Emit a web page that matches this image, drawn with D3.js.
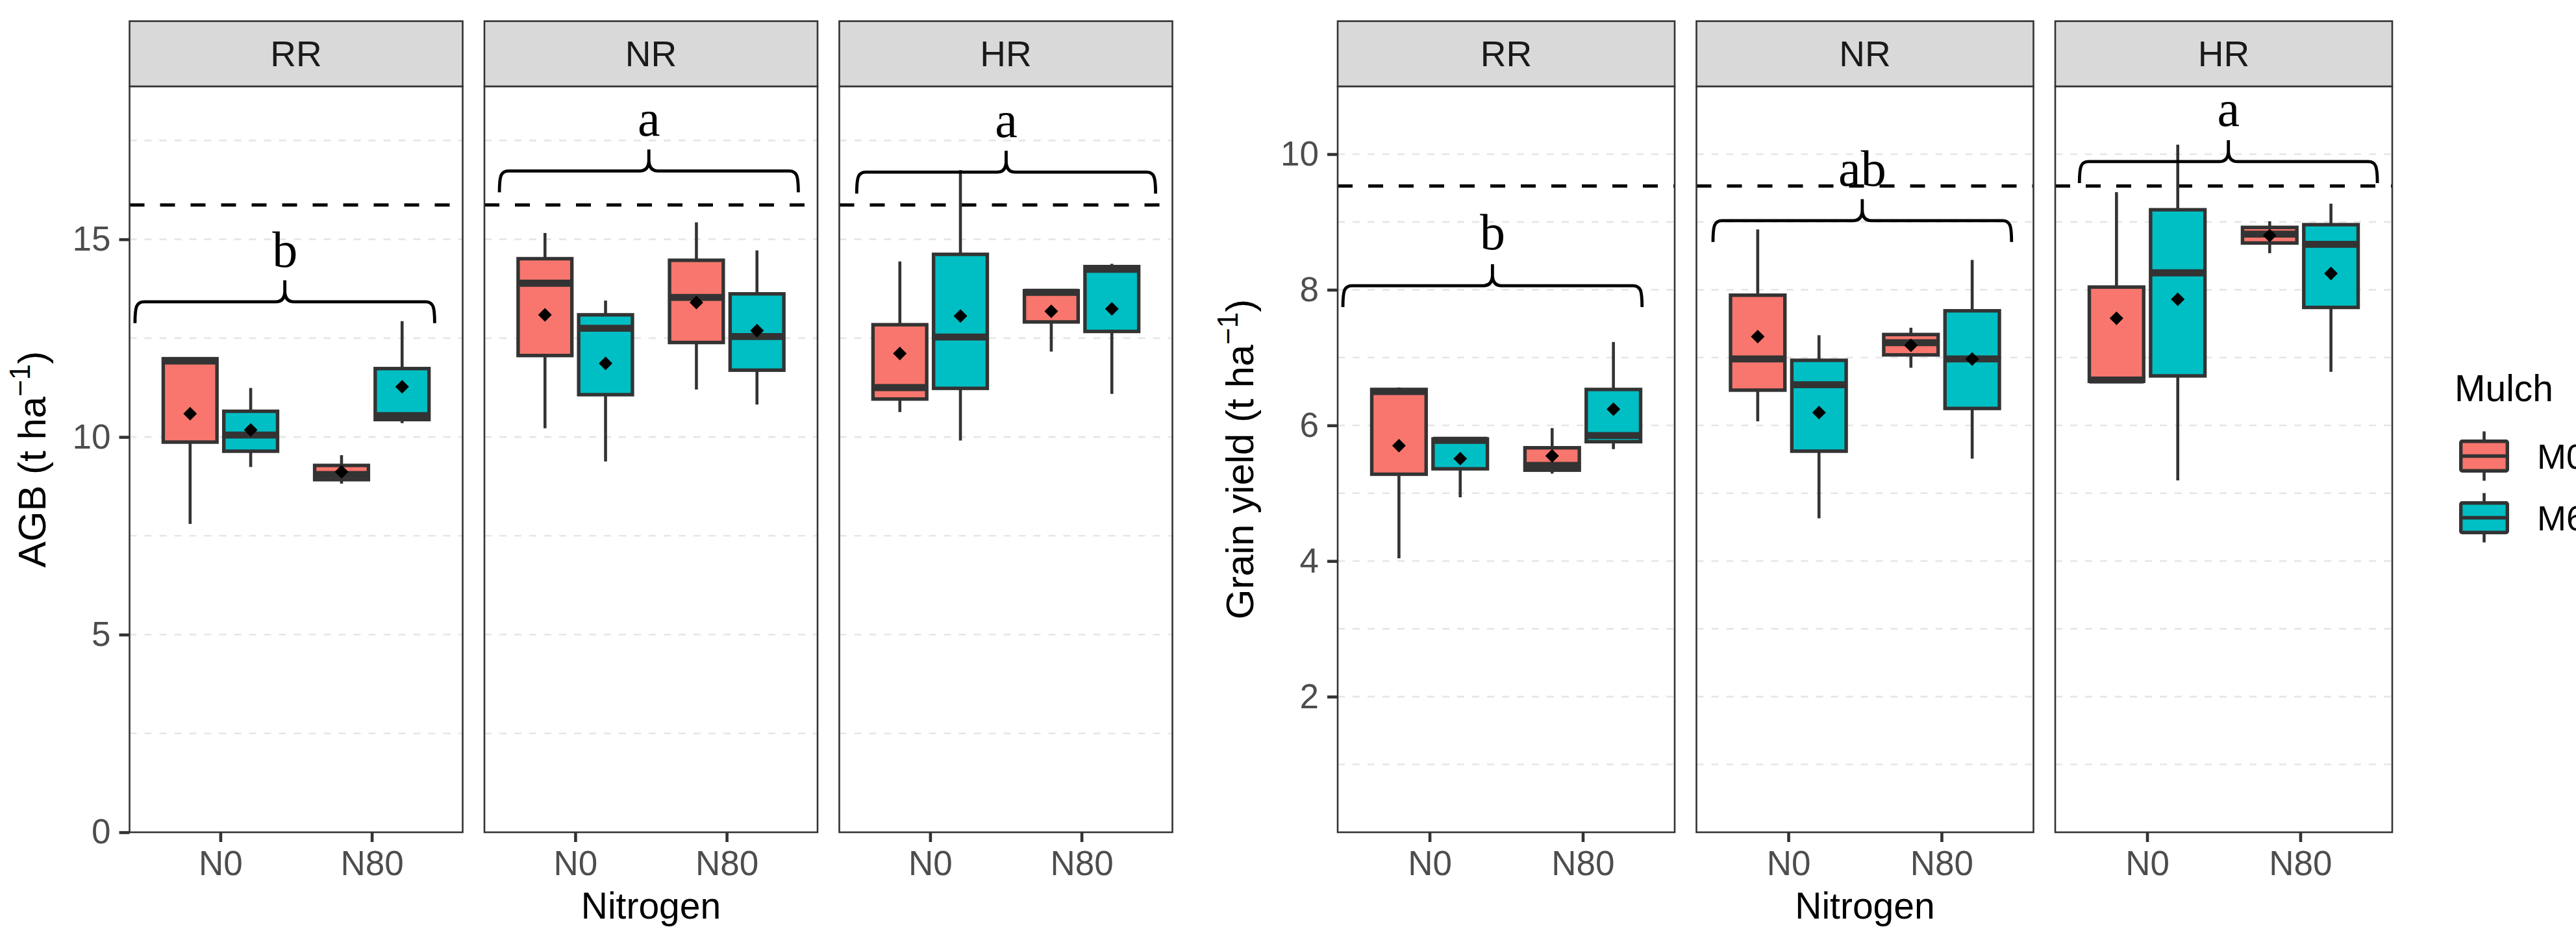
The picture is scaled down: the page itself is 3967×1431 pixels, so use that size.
<!DOCTYPE html>
<html><head><meta charset="utf-8">
<script src="https://cdn.jsdelivr.net/npm/d3@7"></script>
<style>body{margin:0;background:#fff}svg{display:block}</style>
</head><body><svg id="chart" width="3967" height="1431"></svg>
<script>
// ---------------- DATA ----------------
const facets = ["RR", "NR", "HR"];
const nitrogen = ["N0", "N80"];
const mulch = ["M0", "M60"];
// each row: [lower whisker, Q1, median, Q3, upper whisker, mean]; order N0-M0, N0-M60, N80-M0, N80-M60
const agbRR = [[7.80, 9.87, 11.92, 11.98, 11.98, 10.59], [9.24, 9.64, 10.05, 10.65, 11.24, 10.18], [8.82, 8.92, 9.05, 9.28, 9.54, 9.12], [10.35, 10.44, 10.54, 11.73, 12.93, 11.27]];
const agbNR = [[10.22, 12.06, 13.89, 14.51, 15.16, 13.09], [9.38, 11.07, 12.75, 13.09, 13.45, 11.86], [11.20, 12.39, 13.53, 14.47, 15.43, 13.40], [10.82, 11.69, 12.54, 13.62, 14.72, 12.69]];
const agbHR = [[10.63, 10.96, 11.25, 12.84, 14.44, 12.11], [9.91, 11.23, 12.53, 14.62, 16.75, 13.06], [12.16, 12.91, 13.66, 13.70, 13.70, 13.18], [11.09, 12.67, 14.24, 14.31, 14.38, 13.24]];
const grainRR = [[4.04, 5.28, 6.50, 6.53, 6.56, 5.70], [4.94, 5.36, 5.78, 5.80, 5.82, 5.51], [5.29, 5.34, 5.41, 5.67, 5.96, 5.55], [5.65, 5.76, 5.85, 6.53, 7.23, 6.24]];
const grainNR = [[6.06, 6.52, 6.98, 7.92, 8.89, 7.31], [4.63, 5.62, 6.60, 6.96, 7.33, 6.19], [6.85, 7.04, 7.22, 7.34, 7.44, 7.18], [5.51, 6.25, 6.98, 7.69, 8.44, 6.98]];
const grainHR = [[6.63, 6.65, 6.67, 8.04, 9.44, 7.58], [5.19, 6.73, 8.25, 9.18, 10.14, 7.86], [8.54, 8.69, 8.82, 8.92, 9.01, 8.80], [6.79, 7.74, 8.67, 8.96, 9.27, 8.24]];
const agbTicks = [0, 5, 10, 15];
const agbMinor = [2.5, 7.5, 12.5, 17.5];
const grainTicks = [2, 4, 6, 8, 10];
const grainMinor = [1, 3, 5, 7, 9];
const agbRef = 15.87;
const grainRef = 9.53;
const agbLetters = ["b", "a", "a"];
const agbLetterY = [14.30, 17.62, 17.59];
const agbBraceY = [13.42, 16.73, 16.70];
const agbBraceX = [[0.436, 2.415], [0.499, 2.473], [0.515, 2.489]];
const grainLetters = ["b", "ab", "a"];
const grainLetterY = [8.60, 9.54, 10.42];
const grainBraceY = [8.06, 9.02, 9.89];
const grainBraceX = [[0.434, 2.387], [0.508, 2.457], [0.558, 2.503]];
const fillColors = ["#F8766D", "#00BFC4"];

// ---------------- DRAWING ----------------
const W = 3967, H = 1431;
const PT = 133, PB = 1282, ST = 32.6;
const svg = d3.select("#chart");
svg.append("rect").attr("width", W).attr("height", H).attr("fill", "#fff");
const SANS = "'Liberation Sans', Arial, Helvetica, sans-serif";
const SERIF = "'Liberation Serif', 'Times New Roman', serif";

function bracePath(xa, xb, yb, hook, tip) {
  const m = (xa + xb) / 2, r = 14;
  return `M${xa},${yb + hook} C${xa},${yb + 8} ${xa + 2},${yb} ${xa + r},${yb} L${m - r},${yb} ` +
    `Q${m - 1},${yb} ${m},${yb - tip * 0.45} L${m},${yb - tip} M${m},${yb - tip * 0.45} ` +
    `Q${m + 1},${yb} ${m + r},${yb} L${xb - r},${yb} C${xb - 2},${yb} ${xb},${yb + 8} ${xb},${yb + hook}`;
}

function drawChart(c) {
  const y = d3.scaleLinear().domain([0, c.yMax]).range([PB, PT]);
  const g = svg.append("g");
  facets.forEach((f, i) => {
    const x0 = c.left + i * (c.panelW + c.gap), x1 = x0 + c.panelW;
    const xPos = d3.scalePoint().domain(nitrogen).range([x0, x1]).padding(0.6);
    const step = xPos.step();
    const xUnit = d3.scaleLinear().domain([0.4, 2.6]).range([x0, x1]);
    const xDodge = d3.scaleBand().domain(mulch).range([-0.4 * step, 0.4 * step])
      .paddingInner(0.1125).paddingOuter(0.05625);
    const bw = xDodge.bandwidth();
    const pg = g.append("g");
    pg.append("rect").attr("x", x0).attr("y", PT).attr("width", c.panelW).attr("height", PB - PT).attr("fill", "#fff");
    // grid
    pg.selectAll(".grid").data(c.minor.concat(c.ticks.filter(t => t > 0))).enter().append("line")
      .attr("x1", x0).attr("x2", x1).attr("y1", d => y(d)).attr("y2", d => y(d))
      .attr("stroke", "#E6E6E6").attr("stroke-width", 2.6).attr("stroke-dasharray", "11,12");
    // reference line
    pg.append("line").attr("x1", x0).attr("x2", x1).attr("y1", y(c.ref)).attr("y2", y(c.ref))
      .attr("stroke", "#000").attr("stroke-width", 5).attr("stroke-dasharray", "23,24");
    // boxes
    const stats = c.stats[i];
    const rows = [];
    nitrogen.forEach((n, ni) => mulch.forEach((m, mi) => rows.push({ n, m, mi, s: stats[ni * 2 + mi] })));
    rows.forEach(r => {
      const cx = xPos(r.n) + xDodge(r.m) + bw / 2;
      const s = r.s;
      const bg = pg.append("g");
      bg.append("line").attr("x1", cx).attr("x2", cx).attr("y1", y(s[3])).attr("y2", y(s[4]))
        .attr("stroke", "#333333").attr("stroke-width", 4.6);
      bg.append("line").attr("x1", cx).attr("x2", cx).attr("y1", y(s[1])).attr("y2", y(s[0]))
        .attr("stroke", "#333333").attr("stroke-width", 4.6);
      bg.append("rect").attr("x", cx - bw / 2).attr("width", bw)
        .attr("y", y(s[3])).attr("height", Math.max(0.5, y(s[1]) - y(s[3])))
        .attr("fill", fillColors[r.mi]).attr("stroke", "#333333").attr("stroke-width", 5.4);
      bg.append("line").attr("x1", cx - bw / 2).attr("x2", cx + bw / 2).attr("y1", y(s[2])).attr("y2", y(s[2]))
        .attr("stroke", "#333333").attr("stroke-width", 10.8);
      const my = y(s[5]), d = 10.5;
      bg.append("path").attr("d", `M${cx},${my - d} L${cx + d},${my} L${cx},${my + d} L${cx - d},${my} Z`).attr("fill", "#000");
    });
    // brace + letter
    const bx = c.braceX[i];
    pg.append("path").attr("d", bracePath(xUnit(bx[0]), xUnit(bx[1]), y(c.braceY[i]), 33, 33))
      .attr("fill", "none").attr("stroke", "#000").attr("stroke-width", 4.8);
    pg.append("text").attr("x", xUnit((bx[0] + bx[1]) / 2)).attr("y", y(c.letterY[i]))
      .attr("text-anchor", "middle").attr("font-family", SERIF).attr("font-size", 78).attr("fill", "#000")
      .text(c.letters[i]);
    // border
    pg.append("rect").attr("x", x0).attr("y", PT).attr("width", c.panelW).attr("height", PB - PT)
      .attr("fill", "none").attr("stroke", "#333333").attr("stroke-width", 2.6);
    // strip
    pg.append("rect").attr("x", x0).attr("y", ST).attr("width", c.panelW).attr("height", PT - ST)
      .attr("fill", "#D9D9D9").attr("stroke", "#333333").attr("stroke-width", 2.6);
    pg.append("text").attr("x", (x0 + x1) / 2).attr("y", (ST + PT) / 2 + 19.5).attr("text-anchor", "middle")
      .attr("font-family", SANS).attr("font-size", 55).attr("fill", "#1A1A1A").text(f);
    // x axis
    const ax = pg.append("g").attr("transform", `translate(0,${PB})`)
      .call(d3.axisBottom(xPos).tickSize(15).tickPadding(13.7));
    ax.select(".domain").remove();
    ax.selectAll("line").attr("stroke", "#333333").attr("stroke-width", 4.6);
    ax.selectAll("text").attr("font-family", SANS).attr("font-size", 53).attr("fill", "#4D4D4D");
    if (i === 0) {
      const ay = pg.append("g").attr("transform", `translate(${x0},0)`)
        .call(d3.axisLeft(y).tickValues(c.ticks).tickSize(16).tickPadding(13).tickFormat(d3.format("d")));
      ay.select(".domain").remove();
      ay.selectAll("line").attr("stroke", "#333333").attr("stroke-width", 4.6);
      ay.selectAll("text").attr("font-family", SANS).attr("font-size", 53).attr("fill", "#4D4D4D");
    }
  });
  // x title
  const totalR = c.left + 3 * c.panelW + 2 * c.gap;
  g.append("text").attr("x", (c.left + totalR) / 2).attr("y", 1415).attr("text-anchor", "middle")
    .attr("font-family", SANS).attr("font-size", 57).attr("fill", "#000").text("Nitrogen");
  // y title
  const yt = g.append("text").attr("transform", `translate(${c.yTitleX},${(PT + PB) / 2}) rotate(-90)`)
    .attr("text-anchor", "middle").attr("font-family", SANS).attr("font-size", 60).attr("fill", "#000");
  yt.append("tspan").text(c.yTitle + " (t ha");
  yt.append("tspan").attr("dy", -24).attr("font-size", 44).text("\u22121");
  yt.append("tspan").attr("dy", 24).text(")");
}

drawChart({ left: 199.5, panelW: 513, gap: 33.5, yMax: 18.87, stats: [agbRR, agbNR, agbHR],
  ticks: agbTicks, minor: agbMinor, ref: agbRef, letters: agbLetters, letterY: agbLetterY,
  braceY: agbBraceY, braceX: agbBraceX, yTitle: "AGB", yTitleX: 70 });
drawChart({ left: 2060, panelW: 519, gap: 33.5, yMax: 11.0, stats: [grainRR, grainNR, grainHR],
  ticks: grainTicks, minor: grainMinor, ref: grainRef, letters: grainLetters, letterY: grainLetterY,
  braceY: grainBraceY, braceX: grainBraceX, yTitle: "Grain yield", yTitleX: 1930 });

// legend
const lg = svg.append("g");
lg.append("text").attr("x", 3780).attr("y", 618).attr("font-family", SANS).attr("font-size", 57).attr("fill", "#000").text("Mulch");
mulch.forEach((m, i) => {
  const cy = 702.5 + i * 95, cx = 3825.5;
  lg.append("line").attr("x1", cx).attr("x2", cx).attr("y1", cy - 38).attr("y2", cy + 38).attr("stroke", "#333333").attr("stroke-width", 4.6);
  lg.append("rect").attr("x", cx - 35.8).attr("y", cy - 22.8).attr("width", 71.6).attr("height", 45.6).attr("rx", 2)
    .attr("fill", fillColors[i]).attr("stroke", "#333333").attr("stroke-width", 5.4);
  lg.append("line").attr("x1", cx - 35.8).attr("x2", cx + 35.8).attr("y1", cy).attr("y2", cy).attr("stroke", "#333333").attr("stroke-width", 5.4);
  lg.append("text").attr("x", 3907).attr("y", cy + 19.5).attr("font-family", SANS).attr("font-size", 54).attr("fill", "#000").text(m);
});
</script></body></html>
